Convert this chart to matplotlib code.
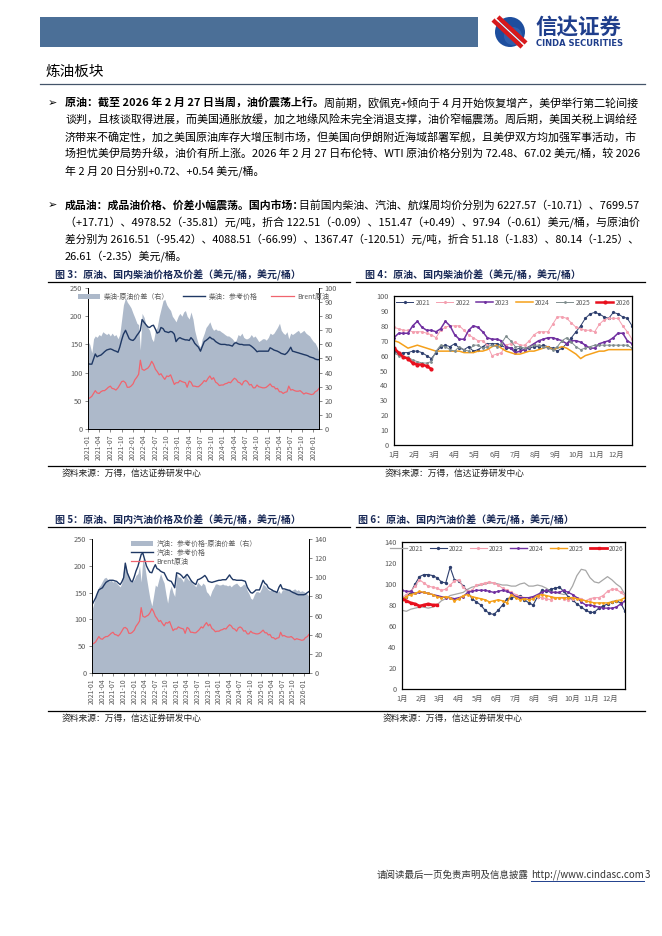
import numpy as np
import pandas as pd
import matplotlib
matplotlib.use('Agg')
import matplotlib.pyplot as plt
import matplotlib.dates as mdates
from matplotlib.patches import Rectangle, Circle, Patch
from matplotlib.lines import Line2D

plt.rcParams['font.family'] = ['Noto Sans CJK SC', 'DejaVu Sans']
plt.rcParams['axes.unicode_minus'] = False

# ---------------- data ----------------
# semi-monthly points, 2021-01 .. 2026-02
brent = [54, 55, 58, 63, 68, 64, 63, 66, 68, 68, 71, 74, 76, 72, 71, 69, 73, 78, 84, 85, 82, 74, 74, 76,
         80, 87, 92, 97, 122, 106, 104, 106, 108, 112, 120, 115, 106, 102, 96, 98, 92, 88, 94, 93, 96, 88, 79, 82,
         82, 86, 84, 83, 82, 74, 85, 83, 76, 76, 75, 75, 78, 81, 86, 84, 90, 94, 88, 91, 83, 81, 77, 78,
         78, 80, 81, 83, 82, 86, 90, 88, 83, 82, 78, 84, 86, 84, 78, 79, 73, 73, 78, 75, 74, 73, 73, 74,
         77, 80, 75, 75, 71, 72, 66, 66, 63, 65, 66, 76, 69, 70, 68, 67, 67, 68, 65, 62, 64, 63, 62, 61,
         62, 66, 68, 72]
diesel = [116, 115, 115, 124, 133, 128, 130, 131, 134, 137, 140, 141, 142, 141, 139, 138, 136, 145, 158, 168, 175, 168, 160, 158,
          157, 160, 166, 170, 175, 194, 189, 185, 181, 180, 183, 184, 177, 170, 172, 180, 178, 173, 172, 171, 173, 172, 168, 155,
          160, 162, 160, 159, 158, 158, 157, 162, 158, 152, 148, 145, 138, 146, 155, 157, 160, 163, 160, 159, 155, 153, 151, 150,
          150, 150, 149, 149, 148, 147, 152, 153, 151, 150, 150, 149, 149, 149, 149, 147, 144, 141, 137, 138, 138, 138, 138, 138,
          138, 144, 142, 140, 139, 138, 136, 134, 133, 132, 135, 139, 145, 138, 137, 136, 135, 134, 133, 132, 131, 130, 128, 127,
          126, 124, 123, 123]
diesel_spread = [62, 60, 54, 64, 66, 65, 67, 66, 69, 68, 67, 68, 66, 68, 66, 67, 64, 67, 78, 88, 93, 90, 88, 86,
                 82, 79, 75, 74, 56, 82, 79, 74, 72, 70, 64, 62, 70, 72, 80, 85, 91, 92, 88, 86, 84, 80, 78, 76,
                 80, 82, 80, 83, 84, 80, 78, 83, 78, 70, 64, 60, 58, 64, 68, 72, 74, 76, 72, 70, 71, 70, 70, 69,
                 68, 67, 66, 66, 65, 64, 62, 63, 67, 66, 68, 65, 64, 64, 65, 67, 65, 66, 64, 62, 63, 64, 64, 63,
                 65, 68, 67, 68, 70, 72, 75, 70, 68, 67, 69, 64, 68, 67, 68, 69, 70, 68, 69, 70, 68, 67, 66, 64,
                 62, 61, 58, 54]
gasoline = [127, 133, 140, 148, 155, 157, 159, 164, 169, 171, 173, 173, 173, 172, 171, 168, 165, 170, 178, 205, 187, 180, 172, 170,
            180, 190, 199, 210, 221, 224, 211, 200, 193, 188, 187, 195, 202, 195, 193, 190, 188, 187, 180, 174, 172, 171, 165, 159,
            187, 186, 184, 181, 177, 180, 184, 180, 174, 170, 167, 165, 174, 175, 177, 179, 182, 178, 171, 170, 169, 170, 171, 172,
            173, 173, 174, 174, 174, 178, 183, 178, 174, 174, 173, 173, 173, 173, 172, 171, 160, 155, 150, 149, 152, 155, 155, 155,
            165, 173, 167, 165, 159, 157, 155, 153, 152, 150, 160, 165, 157, 157, 156, 155, 154, 152, 150, 149, 147, 146, 146, 146,
            146, 147, 150, 152]
gasoline_spread = [66, 72, 80, 86, 90, 92, 96, 99, 100, 98, 96, 97, 95, 96, 94, 92, 90, 94, 108, 114, 106, 100, 96, 95,
                   98, 102, 104, 112, 95, 120, 112, 100, 88, 78, 70, 80, 92, 90, 98, 104, 98, 94, 82, 73, 86, 91, 84, 80,
                   104, 100, 100, 98, 95, 104, 99, 97, 97, 94, 92, 90, 95, 93, 91, 94, 92, 85, 83, 80, 86, 89, 93, 93,
                   92, 92, 93, 92, 92, 91, 92, 90, 92, 93, 94, 92, 90, 91, 93, 92, 86, 83, 78, 77, 82, 85, 85, 84,
                   88, 93, 91, 89, 87, 86, 88, 86, 86, 84, 86, 83, 87, 87, 88, 87, 88, 86, 87, 88, 86, 87, 85, 86,
                   85, 84, 82, 80]

# weekly seasonal spreads
years = ['2021', '2022', '2023', '2024', '2025', '2026']
diesel_crack = {
    '2021': [63, 61, 62, 62, 63, 63, 62, 60, 58, 62, 66, 67, 66, 68, 65, 64, 66, 63, 64, 66, 68, 68, 68, 67, 65, 65,
             64, 65, 64, 65, 66, 66, 67, 66, 65, 63, 65, 68, 72, 76, 80, 85, 88, 89, 88, 86, 85, 89, 88, 86, 85, 80],
    '2022': [79, 78, 77, 77, 76, 76, 76, 75, 74, 72, 77, 79, 80, 80, 80, 77, 74, 72, 70, 70, 67, 60, 61, 62, 67, 68,
             69, 67, 67, 70, 74, 76, 76, 76, 81, 86, 86, 85, 82, 79, 78, 77, 77, 76, 81, 84, 85, 85, 85, 80, 76, 71],
    '2023': [72, 75, 75, 75, 80, 83, 79, 77, 77, 76, 78, 83, 80, 74, 71, 71, 77, 80, 79, 76, 72, 71, 71, 70, 66, 65,
             62, 63, 64, 66, 68, 70, 71, 72, 72, 71, 70, 68, 70, 70, 69, 67, 65, 65, 68, 69, 70, 72, 75, 75, 70, 68],
    '2024': [70, 69, 67, 65, 66, 67, 66, 65, 64, 63, 63, 63, 63, 63, 63, 62, 62, 62, 63, 63, 64, 66, 67, 65, 63, 62,
             61, 61, 62, 63, 63, 64, 65, 66, 64, 65, 66, 65, 63, 61, 58, 60, 61, 62, 63, 63, 64, 64, 64, 64, 64, 64],
    '2025': [62, 60, 59, 59, 57, 56, 55, 55, 56, 63, 67, 66, 64, 63, 66, 64, 63, 67, 67, 65, 66, 67, 66, 68, 73, 70,
             66, 66, 65, 66, 67, 67, 66, 65, 64, 66, 70, 72, 69, 66, 64, 65, 66, 67, 67, 67, 67, 67, 67, 67, 67, 65],
    '2026': [65, 62, 59, 58, 55, 54, 54, 53, 51],
}
gasoline_crack = {
    '2021': [75, 74, 76, 77, 78, 78, 77, 78, 80, 84, 86, 89, 90, 91, 92, 95, 97, 98, 99, 100, 101, 101, 100, 99, 99, 98,
             98, 100, 101, 98, 98, 99, 98, 96, 93, 92, 91, 90, 91, 98, 108, 114, 113, 106, 102, 101, 104, 107, 104, 100, 97, 90],
    '2022': [86, 88, 92, 100, 107, 109, 109, 108, 106, 102, 101, 116, 104, 103, 98, 93, 86, 83, 80, 75, 72, 71, 75, 80, 86, 87,
             88, 89, 85, 82, 80, 88, 94, 93, 95, 96, 97, 93, 88, 85, 81, 78, 75, 73, 73, 77, 79, 81, 83, 84, 82, 74],
    '2023': [87, 90, 93, 98, 104, 101, 98, 97, 96, 94, 95, 99, 103, 104, 97, 93, 94, 99, 100, 101, 102, 101, 99, 96, 94, 92,
             90, 88, 87, 87, 88, 88, 87, 86, 85, 87, 87, 86, 85, 86, 87, 86, 84, 86, 87, 87, 89, 93, 95, 95, 92, 89],
    '2024': [94, 93, 93, 91, 92, 92, 91, 90, 89, 88, 87, 87, 86, 87, 88, 92, 93, 94, 94, 94, 93, 92, 93, 94, 93, 91,
             88, 87, 87, 87, 88, 90, 92, 94, 92, 92, 92, 94, 92, 90, 87, 83, 80, 80, 79, 78, 77, 77, 77, 78, 81, 84],
    '2025': [85, 88, 90, 91, 93, 92, 91, 90, 88, 87, 88, 87, 84, 86, 89, 90, 88, 87, 86, 85, 83, 84, 85, 84, 82, 90,
             87, 85, 86, 85, 86, 89, 90, 89, 88, 87, 87, 87, 87, 87, 86, 85, 84, 83, 82, 82, 82, 82, 83, 84, 85, 87],
    '2026': [86, 84, 82, 81, 79, 80, 81, 80, 80],
}
month_labels = ['%d月' % m for m in range(1, 13)]

para1 = [
    ([('原油：截至 2026 年 2 月 27 日当周，油价震荡上行。', 'bold'),
      ('周前期，欧佩克+倾向于 4 月开始恢复增产，美伊举行第二轮间接', 'normal')], True),
    ([('谈判，且核谈取得进展，而美国通胀放缓，加之地缘风险未完全消退支撑，油价窄幅震荡。周后期，美国关税上调给经', 'normal')], True),
    ([('济带来不确定性，加之美国原油库存大增压制市场，但美国向伊朗附近海域部署军舰，且美伊双方均加强军事活动，市', 'normal')], True),
    ([('场担忧美伊局势升级，油价有所上涨。2026 年 2 月 27 日布伦特、WTI 原油价格分别为 72.48、67.02 美元/桶，较 2026', 'normal')], True),
    ([('年 2 月 20 日分别+0.72、+0.54 美元/桶。', 'normal')], False),
]
para2 = [
    ([('成品油：成品油价格、价差小幅震荡。国内市场：', 'bold'),
      ('目前国内柴油、汽油、航煤周均价分别为 6227.57（-10.71）、7699.57', 'normal')], True),
    ([('（+17.71）、4978.52（-35.81）元/吨，折合 122.51（-0.09）、151.47（+0.49）、97.94（-0.61）美元/桶，与原油价', 'normal')], True),
    ([('差分别为 2616.51（-95.42）、4088.51（-66.99）、1367.47（-120.51）元/吨，折合 51.18（-1.83）、80.14（-1.25）、', 'normal')], True),
    ([('26.61（-2.35）美元/桶。', 'normal')], False),
]

# ---------------- page ----------------
W, H = 662, 936
fig = plt.figure(figsize=(W / 100, H / 100), dpi=100)
bg = fig.add_axes([0, 0, 1, 1])
bg.set_xlim(0, W)
bg.set_ylim(H, 0)
bg.axis('off')
rend = fig.canvas.get_renderer()


def box(l, t, r, b):
    return [l / W, 1 - b / H, (r - l) / W, (b - t) / H]


# header
bg.add_patch(Rectangle((40, 17), 438, 30, color='#4B6F97', lw=0))
bg.add_patch(Circle((510, 32), 15, color='#1D4E9E', lw=0))
bg.add_patch(Circle((513, 36), 9, color='#3A6CB8', lw=0, alpha=0.6))
bg.plot([493, 522], [20, 47], color='#D7191C', lw=3.2, solid_capstyle='butt')
bg.plot([498, 526], [17, 43], color='#D7191C', lw=3.2, solid_capstyle='butt')
bg.plot([495.5, 524], [18.5, 45], color='white', lw=0.8)
bg.text(535, 27, '信达证券', fontsize=15.5, fontweight='bold', color='#1F3E8C', va='center')
bg.text(536, 43.5, 'CINDA SECURITIES', fontsize=6.0, fontweight='bold', color='#1F3E8C', va='center',
        family=['DejaVu Sans'])

bg.text(46, 72, '炼油板块', fontsize=10.5, va='center')
bg.plot([40, 645], [84, 84], color='#44546A', lw=0.9)


def text_line(x, y, segs, width=None, fs=7.9):
    objs = [bg.text(0, y, s, fontsize=fs, fontweight=w, va='center', ha='left') for s, w in segs]

    def layout():
        cx = x
        for t, (s, w) in zip(objs, segs):
            t.set_x(cx)
            cx += t.get_window_extent(rend).width
            if s.endswith('：'):
                cx -= t.get_fontsize() * 100 / 72 * 0.45
        return cx - x

    tot = layout()
    if width:
        k = min(max(width / tot, 0.9), 1.1)
        for t in objs:
            t.set_fontsize(fs * k)
        layout()


ys1 = [103, 120, 137, 154, 171]
ys2 = [205, 222, 239, 256]
for ys, para in [(ys1, para1), (ys2, para2)]:
    bg.text(48, ys[0], '➢', fontsize=8, va='center')
    for y, (segs, just) in zip(ys, para):
        text_line(65, y, segs, width=575 if just else None)

# figure titles, rules, sources
title_kw = dict(fontsize=7.2, fontweight='bold', color='#1A2A57', va='center')
bg.text(55, 275, '图 3：原油、国内柴油价格及价差（美元/桶，美元/桶）', **title_kw)
bg.text(365, 275, '图 4：原油、国内柴油价差（美元/桶，美元/桶）', **title_kw)
bg.text(55, 520, '图 5：原油、国内汽油价格及价差（美元/桶，美元/桶）', **title_kw)
bg.text(358, 520, '图 6：原油、国内汽油价差（美元/桶，美元/桶）', **title_kw)
for yl in [281.5, 526.5]:
    bg.plot([48, 350], [yl, yl], color='black', lw=0.9)
    bg.plot([356, 645], [yl, yl], color='black', lw=0.9)
for yl in [466, 711]:
    bg.plot([48, 645], [yl, yl], color='black', lw=0.9)
for xs, ys in [(62, 473), (385, 473), (62, 718), (383, 718)]:
    bg.text(xs, ys, '资料来源：万得，信达证券研发中心', fontsize=6.3, va='center', color='#222222')

# footer
t3 = bg.text(650, 875, '3', fontsize=7, va='center', ha='right', color='#333333')
w3 = t3.get_window_extent(rend).width
turl = bg.text(650 - w3 - 0.5, 875, 'http://www.cindasc.com', fontsize=7, va='center', ha='right',
               color='#333333')
wu = turl.get_window_extent(rend).width
bg.plot([650 - w3 - 0.5 - wu, 650 - w3 - 0.5], [880.5, 880.5], color='#1F3E8C', lw=0.7)
bg.text(650 - w3 - wu - 3, 875, '请阅读最后一页免责声明及信息披露', fontsize=6.8, va='center', ha='right',
        color='#333333')

# ---------------- charts ----------------
dates = pd.date_range('2021-01-01', periods=len(brent), freq='SMS')
weeks = np.arange(52)
GREY = '#595959'
AREA = '#ADB9CA'
NAVY = '#1F3864'
BRENT = '#F0646E'


def price_chart(rect, spread, price, right_max, right_step, leg_labels, leg_kw):
    ax = fig.add_axes(rect)
    axr = ax.twinx()
    axr.fill_between(dates, 0, spread, color=AREA, lw=0)
    ax.plot(dates, price, color=NAVY, lw=1.0)
    ax.plot(dates, brent, color=BRENT, lw=0.9)
    ax.set_zorder(axr.get_zorder() + 1)
    ax.patch.set_visible(False)
    ax.set_xlim(dates[0], dates[-1])
    ax.set_ylim(0, 250)
    ax.set_yticks(np.arange(0, 251, 50))
    axr.set_ylim(0, right_max)
    axr.set_yticks(np.arange(0, right_max + 1, right_step))
    ax.xaxis.set_major_locator(mdates.MonthLocator(bymonth=(1, 4, 7, 10)))
    ax.xaxis.set_major_formatter(mdates.DateFormatter('%Y-%m'))
    for a in (ax, axr):
        a.tick_params(colors=GREY, labelsize=5.3, length=2, width=0.5, pad=2)
        for s in a.spines.values():
            s.set_visible(False)
    ax.tick_params(axis='x', labelrotation=90, labelsize=5)
    for s in ('left', 'bottom'):
        ax.spines[s].set_visible(True)
        ax.spines[s].set_color('black')
        ax.spines[s].set_linewidth(0.7)
    axr.spines['right'].set_visible(True)
    axr.spines['right'].set_color('black')
    axr.spines['right'].set_linewidth(0.7)
    handles = [Patch(color=AREA, lw=0), Line2D([], [], color=NAVY, lw=1.0), Line2D([], [], color=BRENT, lw=0.9)]
    ax.legend(handles, leg_labels, frameon=False, fontsize=5, labelcolor=GREY, **leg_kw)
    return ax


price_chart(box(88, 288, 319, 429), diesel_spread, diesel, 100, 10,
            ['柴油-原油价差（右）', '柴油：参考价格', 'Brent原油'],
            dict(ncol=3, loc='upper center', bbox_to_anchor=(0.5, 1.01), handlelength=3.2, columnspacing=2.0,
                 handletextpad=0.5))
price_chart(box(92, 539, 309, 673), gasoline_spread, gasoline, 140, 20,
            ['汽油：参考价格-原油价差（右）', '汽油：参考价格', 'Brent原油'],
            dict(ncol=1, loc='upper center', bbox_to_anchor=(0.47, 1.03), handlelength=3.2, labelspacing=0.15,
                 handletextpad=0.5, borderpad=0.2))


def season_chart(rect, data, ymax, ystep, styles, leg_anchor):
    ax = fig.add_axes(rect)
    for y in years:
        vals = data[y]
        ax.plot(weeks[:len(vals)], vals, label=y, **styles[y])
    ax.set_xlim(0, 51)
    ax.set_ylim(0, ymax)
    ax.set_yticks(np.arange(0, ymax + 1, ystep))
    ax.set_xticks(np.arange(12) * 52 / 12)
    ax.set_xticklabels(month_labels)
    ax.tick_params(colors=GREY, labelsize=5.3, length=0, pad=4)
    for s in ax.spines.values():
        s.set_color('black')
        s.set_linewidth(0.9)
    ax.legend(ncol=6, loc='upper center', bbox_to_anchor=leg_anchor, frameon=False, fontsize=4.8, labelcolor=GREY,
              handlelength=2.6, columnspacing=0.9, handletextpad=0.3, borderaxespad=0.2, borderpad=0.2)
    return ax


diesel_styles = {
    '2021': dict(color='#2E3F6E', lw=0.7, marker='o', ms=1.3),
    '2022': dict(color='#F4A0B0', lw=0.7, marker='o', ms=1.2),
    '2023': dict(color='#7030A0', lw=1.1, marker='o', ms=1.1),
    '2024': dict(color='#F5A01A', lw=1.1),
    '2025': dict(color='#7F8C8D', lw=0.7, marker='o', ms=1.0),
    '2026': dict(color='#E8101E', lw=1.8, marker='o', ms=2.0),
}
gasoline_styles = {
    '2021': dict(color='#A6A6A6', lw=0.9),
    '2022': dict(color='#2E3F6E', lw=0.8, marker='o', ms=1.4),
    '2023': dict(color='#F4A0B0', lw=0.8, marker='o', ms=1.3),
    '2024': dict(color='#7030A0', lw=1.0, marker='o', ms=1.1),
    '2025': dict(color='#F5A01A', lw=1.0, marker='o', ms=1.0),
    '2026': dict(color='#E8101E', lw=2.0, marker='s', ms=1.8),
}
season_chart(box(394, 296, 632, 445), diesel_crack, 100, 10, diesel_styles, (0.5, 1.0))
season_chart(box(402, 542, 625, 689), gasoline_crack, 140, 20, gasoline_styles, (0.47, 1.0))

fig.savefig('out.png', dpi=100)
